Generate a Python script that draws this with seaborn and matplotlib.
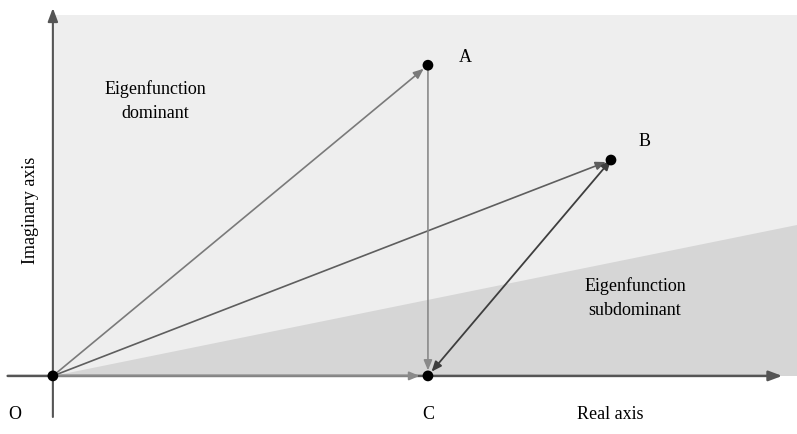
import matplotlib
matplotlib.use("Agg")
import matplotlib.pyplot as plt
import seaborn as sns
import pandas as pd

sns.set_style("white")
plt.rcParams["font.family"] = ["Liberation Serif", "DejaVu Serif"]
plt.rcParams["text.color"] = "black"

# Points in the complex plane (real, imaginary)
labels = ["O", "A", "B", "C"]
real = [0.0, 1.0, 1.488, 1.0]
imag = [0.0, 0.829, 0.576, 0.0]

# Boundary of the subdominant wedge: slope of the ray from O
wedge_slope = 0.203

pts = pd.DataFrame({"label": labels, "real": real, "imag": imag})
P = {r.label: (r.real, r.imag) for r in pts.itertuples()}

fig = plt.figure(figsize=(7.97, 4.34), dpi=100)
ax = fig.add_axes([0, 0, 1, 1])
xmin, xmax = -0.141, 1.984
ymin, ymax = -0.155, 1.003
ax.set_xlim(xmin, xmax)
ax.set_ylim(ymin, ymax)
ax.set_axis_off()

# Shaded regions
ax.fill_between([0, xmax], 0, 0.963, color="#eeeeee", zorder=0, lw=0)
ax.fill([0, xmax, xmax], [0, 0, wedge_slope * xmax], color="#d6d6d6", zorder=1, lw=0)

# Coordinate axes
ax.annotate("", xy=(1.952, 0), xytext=(-0.128, 0),
            arrowprops=dict(arrowstyle="-|>,head_length=0.8,head_width=0.3", color="#555555", lw=1.8),
            zorder=2)
ax.annotate("", xy=(0, 0.989), xytext=(0, -0.117),
            arrowprops=dict(arrowstyle="-|>,head_length=0.8,head_width=0.3", color="#555555", lw=1.5),
            zorder=2)


def arrow(p, q, color, lw=1.2, style="-|>", shrinkB=4):
    ax.annotate("", xy=q, xytext=p,
                arrowprops=dict(arrowstyle=style + ",head_length=0.6,head_width=0.25",
                                color=color, lw=lw, shrinkA=0, shrinkB=shrinkB),
                zorder=3)


arrow(P["O"], P["A"], "#7a7a7a")
arrow(P["O"], P["B"], "#5e5e5e")
arrow(P["A"], P["C"], "#8a8a8a")
arrow(P["O"], P["C"], "#8a8a8a", lw=1.4, shrinkB=6)
arrow(P["B"], P["C"], "#3e3e3e", lw=1.3, style="<|-|>")

sns.scatterplot(data=pts, x="real", y="imag", color="black", s=60,
                edgecolor="none", ax=ax, zorder=4, legend=False)

fs = 13
ax.text(P["A"][0] + 0.1, P["A"][1] + 0.02, "A", fontsize=fs, ha="center", va="center")
ax.text(P["B"][0] + 0.09, P["B"][1] + 0.05, "B", fontsize=fs, ha="center", va="center")
ax.text(P["C"][0], -0.104, "C", fontsize=fs, ha="center", va="center")
ax.text(-0.101, -0.104, "O", fontsize=fs, ha="center", va="center")
ax.text(1.485, -0.104, "Real axis", fontsize=fs, ha="center", va="center")
ax.text(-0.061, 0.443, "Imaginary axis", fontsize=fs, ha="center", va="center", rotation=90)
ax.text(0.272, 0.733, "Eigenfunction\ndominant", fontsize=fs, ha="center", va="center",
        linespacing=1.5)
ax.text(1.552, 0.208, "Eigenfunction\nsubdominant", fontsize=fs, ha="center", va="center",
        linespacing=1.5)

fig.savefig("out.png", dpi=100)
